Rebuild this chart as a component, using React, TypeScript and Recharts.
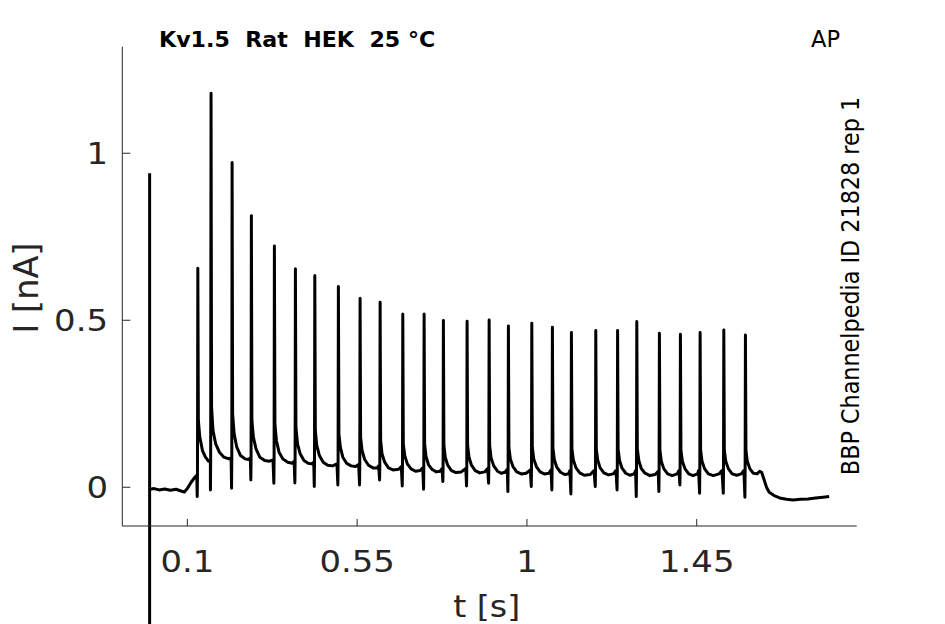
import { LineChart, Line, XAxis, YAxis, ReferenceLine } from 'recharts';

// time [s], current [nA]
const preStep: [number, number][] = [
  [0.000, -0.006], [0.012, -0.004], [0.025, -0.008], [0.040, -0.005], [0.055, -0.009],
  [0.070, -0.006], [0.085, -0.012], [0.092, -0.014], [0.100, -0.004], [0.110, 0.015],
  [0.120, 0.030], [0.125, 0.036],
];

// one row per action-potential spike: dip, peak and the decaying tail
const spikeTrain: [number, number][][] = [
  [[0.1262, -0.028], [0.1268, 0.035], [0.1278, 0.656], [0.1292, 0.2], [0.133, 0.15], [0.140, 0.11], [0.148, 0.09], [0.156, 0.078], [0.161, 0.08]],
  [[0.1612, -0.008], [0.1618, 0.08], [0.1628, 1.18], [0.1642, 0.24], [0.168, 0.17], [0.175, 0.13], [0.185, 0.105], [0.197, 0.09], [0.210, 0.085], [0.216, 0.088]],
  [[0.2172, -0.003], [0.2178, 0.085], [0.2186, 0.972], [0.2200, 0.22], [0.224, 0.16], [0.231, 0.12], [0.241, 0.095], [0.253, 0.085], [0.263, 0.083], [0.267, 0.088]],
  [[0.2683, 0.022], [0.2689, 0.088], [0.2697, 0.813], [0.2711, 0.2], [0.275, 0.15], [0.282, 0.115], [0.292, 0.09], [0.305, 0.08], [0.318, 0.078], [0.327, 0.082]],
  [[0.3293, 0.012], [0.3299, 0.082], [0.3307, 0.722], [0.3321, 0.19], [0.336, 0.14], [0.343, 0.105], [0.353, 0.085], [0.366, 0.075], [0.378, 0.072], [0.383, 0.078]],
  [[0.385, 0.013], [0.3856, 0.078], [0.3864, 0.654], [0.3878, 0.18], [0.392, 0.13], [0.399, 0.1], [0.409, 0.08], [0.420, 0.072], [0.430, 0.07], [0.435, 0.075]],
  [[0.4364, 0.002], [0.437, 0.075], [0.4378, 0.634], [0.4392, 0.17], [0.443, 0.125], [0.450, 0.095], [0.460, 0.075], [0.472, 0.066], [0.485, 0.064], [0.4965, 0.07]],
  [[0.4989, 0.007], [0.4995, 0.07], [0.5003, 0.601], [0.5017, 0.16], [0.5055, 0.12], [0.512, 0.09], [0.522, 0.072], [0.534, 0.064], [0.546, 0.062], [0.554, 0.068]],
  [[0.5564, 0.007], [0.557, 0.068], [0.5578, 0.566], [0.5592, 0.15], [0.563, 0.11], [0.570, 0.083], [0.580, 0.066], [0.592, 0.058], [0.603, 0.058], [0.607, 0.064]],
  [[0.6095, 0.022], [0.6101, 0.066], [0.6109, 0.554], [0.6123, 0.14], [0.616, 0.1], [0.623, 0.075], [0.633, 0.058], [0.645, 0.052], [0.660, 0.054], [0.667, 0.062]],
  [[0.6696, 0.004], [0.6702, 0.062], [0.671, 0.519], [0.6724, 0.13], [0.676, 0.095], [0.683, 0.07], [0.693, 0.055], [0.705, 0.048], [0.717, 0.05], [0.724, 0.058]],
  [[0.7261, -0.006], [0.7267, 0.06], [0.7275, 0.519], [0.7289, 0.13], [0.7325, 0.092], [0.739, 0.068], [0.749, 0.053], [0.760, 0.046], [0.770, 0.048], [0.775, 0.056]],
  [[0.7772, 0.017], [0.7778, 0.058], [0.7786, 0.499], [0.78, 0.125], [0.7835, 0.09], [0.79, 0.066], [0.80, 0.05], [0.812, 0.044], [0.826, 0.046], [0.838, 0.056]],
  [[0.84, 0.004], [0.8406, 0.058], [0.8414, 0.497], [0.8428, 0.125], [0.8465, 0.09], [0.853, 0.066], [0.863, 0.05], [0.875, 0.043], [0.888, 0.046], [0.896, 0.056]],
  [[0.8984, 0.012], [0.899, 0.058], [0.8998, 0.501], [0.9012, 0.125], [0.905, 0.088], [0.912, 0.064], [0.922, 0.048], [0.932, 0.042], [0.942, 0.045], [0.948, 0.054]],
  [[0.9495, -0.013], [0.9501, 0.055], [0.9509, 0.483], [0.9523, 0.12], [0.956, 0.085], [0.963, 0.062], [0.973, 0.046], [0.985, 0.04], [0.998, 0.042], [1.009, 0.052]],
  [[1.0115, 0.002], [1.0121, 0.054], [1.0129, 0.491], [1.0143, 0.12], [1.018, 0.085], [1.025, 0.062], [1.035, 0.046], [1.046, 0.04], [1.058, 0.042], [1.064, 0.052]],
  [[1.0661, -0.008], [1.0667, 0.053], [1.0675, 0.479], [1.0689, 0.118], [1.0725, 0.083], [1.079, 0.06], [1.089, 0.045], [1.100, 0.038], [1.110, 0.04], [1.114, 0.05]],
  [[1.1165, -0.02], [1.1171, 0.05], [1.1179, 0.463], [1.1193, 0.115], [1.123, 0.082], [1.13, 0.058], [1.14, 0.043], [1.152, 0.036], [1.168, 0.038], [1.178, 0.05]],
  [[1.1811, 0.002], [1.1817, 0.05], [1.1825, 0.469], [1.1839, 0.115], [1.1875, 0.082], [1.194, 0.058], [1.204, 0.043], [1.216, 0.037], [1.229, 0.04], [1.236, 0.05]],
  [[1.2389, -0.008], [1.2395, 0.05], [1.2403, 0.469], [1.2417, 0.113], [1.2455, 0.08], [1.252, 0.057], [1.262, 0.042], [1.273, 0.036], [1.284, 0.04], [1.288, 0.05]],
  [[1.2898, -0.028], [1.2904, 0.05], [1.2912, 0.496], [1.2926, 0.115], [1.2965, 0.08], [1.303, 0.056], [1.313, 0.042], [1.326, 0.035], [1.340, 0.038], [1.348, 0.048]],
  [[1.3497, -0.013], [1.3503, 0.048], [1.3511, 0.461], [1.3525, 0.112], [1.356, 0.078], [1.363, 0.055], [1.373, 0.04], [1.385, 0.035], [1.398, 0.04], [1.403, 0.05]],
  [[1.4054, 0.007], [1.406, 0.05], [1.4068, 0.458], [1.4082, 0.11], [1.412, 0.078], [1.419, 0.055], [1.429, 0.04], [1.440, 0.035], [1.452, 0.04], [1.455, 0.05]],
  [[1.4576, -0.018], [1.4582, 0.05], [1.459, 0.463], [1.4604, 0.11], [1.464, 0.078], [1.471, 0.055], [1.481, 0.04], [1.494, 0.035], [1.509, 0.04], [1.517, 0.05]],
  [[1.5204, -0.018], [1.521, 0.05], [1.5218, 0.471], [1.5232, 0.11], [1.527, 0.078], [1.534, 0.055], [1.544, 0.04], [1.556, 0.036], [1.568, 0.04], [1.575, 0.05]],
  [[1.5777, -0.03], [1.5783, 0.05], [1.5791, 0.456], [1.5805, 0.11], [1.584, 0.078], [1.591, 0.055], [1.600, 0.042], [1.610, 0.04], [1.617, 0.048], [1.622, 0.045]],
];

const postStep: [number, number][] = [
  [1.628, 0.025], [1.635, 0.0], [1.642, -0.015], [1.655, -0.025], [1.670, -0.032], [1.688, -0.036],
  [1.705, -0.038], [1.725, -0.036], [1.745, -0.035], [1.765, -0.032], [1.785, -0.03], [1.801, -0.028],
];

// capacitive artefact at t = 0, runs off the bottom of the axes
const artifactT = 0;
const artifactTop = 0.94;
const artifactBottom = -0.42;

const xTicks = [0.1, 0.55, 1, 1.45];
const yTicks = [0, 0.5, 1];
const xDomain = [-0.0724, 1.874];
const yDomain = [-0.116, 1.319];

const data = [...preStep, ...spikeTrain.flat(), ...postStep].map(([t, i]) => ({ t, i }));

const FONT = '"DejaVu Sans", sans-serif';
const GREY = '#262626';
const SX = 1.13;

const Stretched = ({ x, y, children, size, anchor = 'middle', angle = 0, weight = 'normal', fill = GREY, sx = SX }: any) => (
  <g transform={`translate(${x},${y}) scale(${sx},1) rotate(${angle})`}>
    <text x={0} y={0} textAnchor={anchor} fontFamily={FONT} fontSize={size} fontWeight={weight} fill={fill}>
      {children}
    </text>
  </g>
);

const XTick = (props: any) => (
  <Stretched x={props.x} y={572} size={30}>{String(props.payload.value)}</Stretched>
);

const YTick = (props: any) => (
  <Stretched x={108} y={props.y + 11} size={30} anchor="end">{String(props.payload.value)}</Stretched>
);

export default function App() {
  return (
    <div style={{ position: 'absolute', left: 0, top: 0, width: 945, height: 624, background: '#fff' }}>
      <LineChart width={945} height={624} data={data} margin={{ top: 46.7, right: 88.3, bottom: 0, left: 0 }}>
        <XAxis
          dataKey="t"
          type="number"
          domain={xDomain}
          allowDataOverflow
          ticks={xTicks}
          height={98}
          tickSize={-7}
          tick={<XTick />}
          axisLine={{ stroke: GREY, strokeWidth: 1 }}
          tickLine={{ stroke: GREY, strokeWidth: 1 }}
        />
        <YAxis
          type="number"
          domain={yDomain}
          allowDataOverflow
          ticks={yTicks}
          width={122.3}
          tickSize={-8}
          tick={<YTick />}
          axisLine={{ stroke: GREY, strokeWidth: 1 }}
          tickLine={{ stroke: GREY, strokeWidth: 1 }}
        />
        <ReferenceLine
          segment={[{ x: artifactT, y: artifactTop }, { x: artifactT, y: artifactBottom }]}
          stroke="#000"
          strokeWidth={3}
          ifOverflow="visible"
        />
        <Line
          dataKey="i"
          type="linear"
          stroke="#000"
          strokeWidth={3}
          dot={false}
          activeDot={false}
          strokeLinejoin="round"
          isAnimationActive={false}
        />
      </LineChart>
      <svg width={945} height={624} style={{ position: 'absolute', left: 0, top: 0, pointerEvents: 'none' }}>
        <Stretched x={159} y={46.7} size={20.5} anchor="start" weight="bold" fill="#000" sx={1.08}>
          Kv1.5{'\u00a0\u00a0'}Rat{'\u00a0\u00a0'}HEK{'\u00a0\u00a0'}25 °C
        </Stretched>
        <Stretched x={811} y={46.7} size={22.5} anchor="start" fill="#000" sx={1}>AP</Stretched>
        <Stretched x={38.3} y={288} size={33.5} angle={-90} sx={1}>I [nA]</Stretched>
        <Stretched x={486.7} y={616.5} size={29.5}>t [s]</Stretched>
        <Stretched x={859} y={286} size={22.3} angle={-90} fill="#000" sx={1.1}>
          BBP Channelpedia ID 21828 rep 1
        </Stretched>
      </svg>
    </div>
  );
}
